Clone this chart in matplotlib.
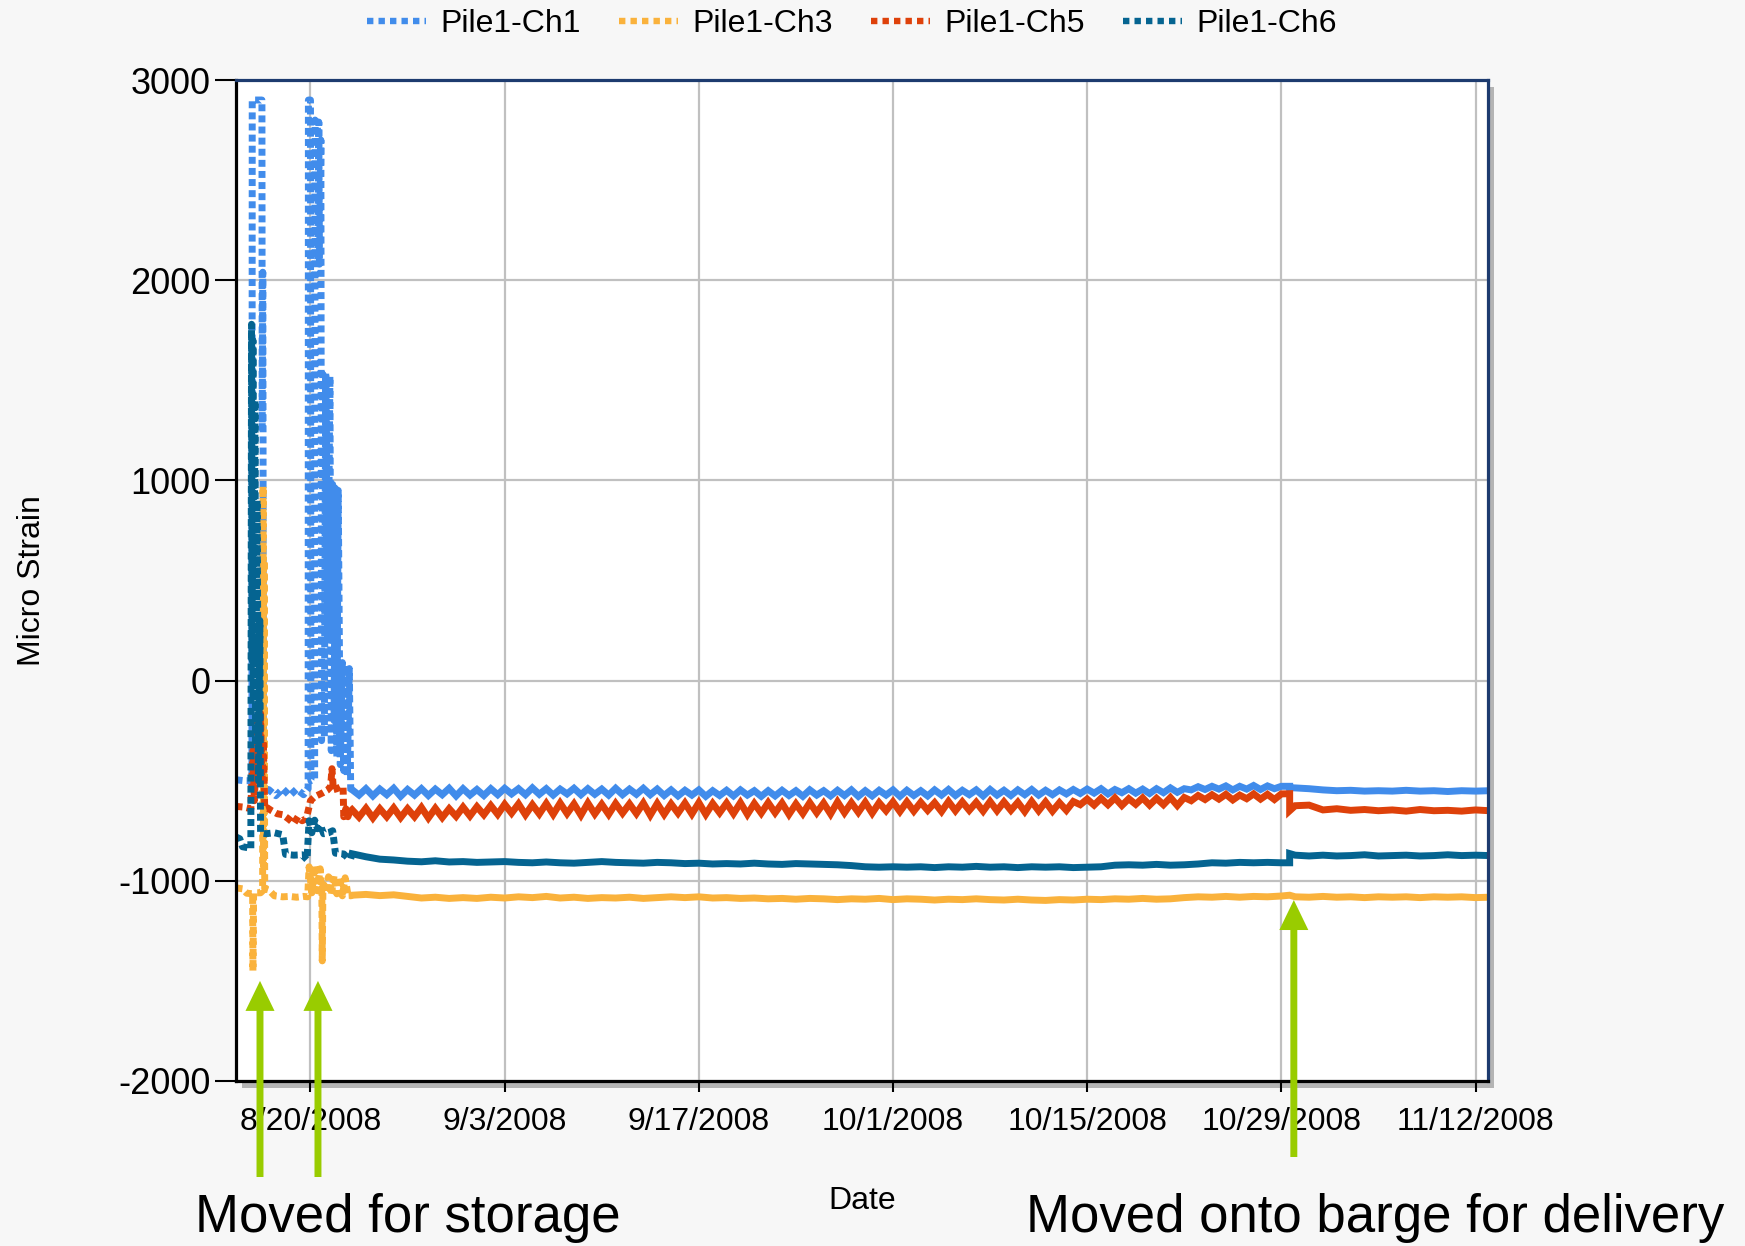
import matplotlib
matplotlib.use('Agg')
import matplotlib.pyplot as plt
import matplotlib.dates as mdates
from matplotlib.lines import Line2D
from matplotlib.patches import Rectangle
from datetime import datetime
import numpy as np

plt.rcParams['font.family'] = ['Liberation Sans', 'DejaVu Sans']

# ---- data (days counted from 8/20/2008) ----
series_names = ['Pile1-Ch1', 'Pile1-Ch3', 'Pile1-Ch5', 'Pile1-Ch6']
series_colors = ['#418ceb', '#fab23c', '#de410a', '#056491']

# irregular part around the two moves (day, micro strain)
ch1_early = [(-5.4, -495), (-4.8, -500), (-4.22, -500), (-4.2, 2900), (-3.5, 2900),
             (-3.48, 1260), (-3.44, 2040), (-3.42, 1260), (-3.4, -540), (-3.0, -545),
             (-2.5, -575), (-2.0, -540), (-1.5, -575), (-1.0, -542), (-0.5, -570),
             (-0.17, -540), (-0.15, 2900), (0.0, 2900), (0.03, -500), (0.3, -490),
             (0.33, 2800), (0.5, 2780), (0.52, 2100), (0.6, 2790), (0.65, 2080),
             (0.75, 2700), (0.8, -300), (0.9, 1530), (1.0, -280), (1.1, 1540),
             (1.25, 200), (1.4, 1520), (1.5, -350), (1.6, 980), (1.7, -200),
             (1.8, 960), (1.9, -380), (2.0, 950), (2.15, -420), (2.3, 90),
             (2.4, -450), (2.55, 80), (2.65, -480), (2.8, 60), (2.9, -540)]
ch3_early = [(-5.4, -1035), (-4.9, -1040), (-4.6, -1062), (-4.17, -1065), (-4.15, -1450),
             (-4.1, -1060), (-3.6, -1060), (-3.45, -1050), (-3.42, 970), (-3.38, -930),
             (-3.35, 600), (-3.3, -1040), (-3.0, -1046), (-2.6, -1075), (-2.0, -1080),
             (-1.5, -1078), (-1.0, -1082), (-0.5, -1078), (-0.2, -1080), (-0.1, -930),
             (0.1, -1060), (0.3, -925), (0.5, -1050), (0.7, -940), (0.82, -1060),
             (0.85, -1400), (0.9, -1000), (1.1, -1060), (1.3, -980), (1.5, -1070),
             (1.7, -975), (1.9, -1065), (2.1, -980), (2.3, -1075), (2.5, -985),
             (2.7, -1070), (2.9, -1075)]
ch5_early = [(-5.4, -628), (-4.8, -632), (-4.3, -640), (-4.15, -350), (-4.05, -600),
             (-3.8, -170), (-3.7, -450), (-3.6, -164), (-3.5, -500), (-3.4, -300),
             (-3.3, -640), (-3.1, -636), (-2.8, -650), (-2.4, -665), (-2.0, -670),
             (-1.6, -690), (-1.2, -713), (-0.9, -680), (-0.6, -700), (-0.3, -690),
             (0.0, -600), (0.3, -580), (0.6, -570), (0.9, -560), (1.2, -548),
             (1.45, -530), (1.55, -440), (1.65, -545), (1.9, -540), (2.2, -530),
             (2.35, -530), (2.4, -680), (2.55, -640), (2.7, -680), (2.9, -640)]
ch6_early = [(-5.4, -780), (-5.1, -790), (-4.9, -830), (-4.5, -835), (-4.3, -840),
             (-4.25, 1780), (-4.2, 100), (-4.15, 1700), (-4.1, -100), (-4.0, 1400),
             (-3.95, -300), (-3.85, 900), (-3.75, -500), (-3.65, 300), (-3.6, -760),
             (-3.2, -765), (-2.6, -760), (-2.0, -770), (-1.8, -868), (-1.2, -872),
             (-0.6, -870), (-0.25, -895), (-0.1, -700), (0.1, -760), (0.3, -697),
             (0.5, -740), (0.7, -720), (0.95, -765), (1.3, -760), (1.6, -750),
             (1.8, -862), (2.4, -866), (2.7, -886), (2.9, -890)]

# daily readings 8/23 .. 10/29 (days 3..70)
mid_days = list(range(3, 71))
ch1_mid = [-545, -540, -542, -538, -544, -540, -542, -538, -540, -544,
           -540, -538, -540, -536, -540, -542, -538, -540, -542, -538,
           -542, -538, -542, -546, -548, -546, -550, -548, -546, -550,
           -550, -548, -550, -546, -550, -548, -546, -550, -548, -546,
           -548, -550, -546, -544, -548, -546, -544, -548, -546, -544,
           -548, -546, -544, -542, -540, -544, -540, -542, -540, -536,
           -540, -530, -528, -526, -528, -524, -526, -528]
ch3_mid = [-1072, -1068, -1074, -1070, -1078, -1086, -1082, -1088, -1084, -1088,
           -1082, -1086, -1080, -1084, -1078, -1086, -1082, -1088, -1084, -1086,
           -1082, -1088, -1084, -1080, -1084, -1080, -1086, -1084, -1088, -1086,
           -1090, -1088, -1092, -1088, -1090, -1094, -1090, -1092, -1088, -1094,
           -1090, -1092, -1096, -1092, -1094, -1090, -1094, -1096, -1092, -1096,
           -1098, -1094, -1096, -1092, -1094, -1090, -1092, -1088, -1092, -1090,
           -1084, -1080, -1082, -1078, -1082, -1078, -1080, -1076]
ch5_mid = [-645, -638, -640, -636, -640, -634, -638, -640, -632, -630,
           -624, -618, -616, -620, -614, -612, -616, -612, -618, -614,
           -616, -612, -614, -616, -612, -610, -614, -612, -610, -614,
           -610, -612, -616, -610, -612, -606, -610, -608, -610, -606,
           -606, -608, -610, -604, -606, -608, -604, -606, -608, -604,
           -606, -610, -604, -592, -588, -586, -590, -586, -588, -584,
           -584, -574, -570, -568, -572, -566, -568, -566]
ch6_mid = [-865, -880, -892, -896, -902, -905, -900, -906, -904, -908,
           -906, -904, -908, -910, -906, -910, -912, -908, -904, -908,
           -910, -912, -908, -910, -914, -912, -916, -914, -916, -912,
           -916, -918, -914, -916, -918, -920, -924, -930, -932, -930,
           -932, -930, -934, -930, -932, -928, -932, -930, -934, -930,
           -932, -930, -934, -932, -930, -922, -920, -922, -918, -922,
           -920, -916, -910, -912, -908, -910, -908, -910]

# daily dips (half a day after each reading, days 3.5..69.5) on Ch1 and Ch5
ch1_dips = [-572, -576, -570, -578, -572, -574, -570, -576, -572, -574,
            -570, -566, -570, -568, -572, -566, -570, -568, -572, -570,
            -568, -570, -574, -576, -572, -578, -574, -576, -572, -578,
            -576, -574, -578, -572, -576, -574, -578, -576, -572, -578,
            -574, -576, -572, -574, -570, -576, -572, -574, -570, -572,
            -570, -566, -564, -562, -566, -560, -562, -564, -560, -558,
            -546, -544, -542, -546, -542, -544, -540]
ch5_dips = [-682, -686, -680, -684, -680, -686, -684, -678, -676, -670,
            -668, -662, -670, -666, -668, -664, -672, -666, -668, -662,
            -664, -672, -668, -662, -666, -668, -660, -664, -668, -662,
            -660, -668, -664, -660, -666, -660, -658, -662, -650, -654,
            -652, -648, -654, -650, -648, -652, -650, -648, -654, -650,
            -652, -648, -620, -622, -620, -624, -618, -622, -620, -624,
            -600, -594, -592, -596, -590, -592, -594]

# step on the barge day (10/29.6) and daily readings 10/30 .. 11/13
late_days = [70.6, 70.6] + list(range(71, 86))
ch1_late = [-528, -535, -536, -540, -546, -550, -548, -552, -550, -552,
            -548, -552, -550, -554, -550, -552, -550]
ch3_late = [-1072, -1072, -1080, -1082, -1078, -1082, -1080, -1084, -1080, -1082,
            -1080, -1084, -1080, -1082, -1080, -1084, -1082]
ch5_late = [-565, -650, -625, -622, -646, -640, -648, -644, -650, -646,
            -652, -644, -650, -648, -652, -646, -650]
ch6_late = [-910, -864, -872, -876, -872, -876, -874, -870, -876, -874,
            -872, -876, -874, -870, -874, -872, -874]

tick_dates = ['2008-08-20', '2008-09-03', '2008-09-17', '2008-10-01',
              '2008-10-15', '2008-10-29', '2008-11-12']
tick_labels = ['8/20/2008', '9/3/2008', '9/17/2008', '10/1/2008',
               '10/15/2008', '10/29/2008', '11/12/2008']
y_ticks = [-2000, -1000, 0, 1000, 2000, 3000]
y_tick_labels = ['-2000', '-1000', '0', '1000', '2000', '3000']

# annotations: (day of event, strain at arrow tip)
event_arrows = [(-3.64, -1500), (0.54, -1500), (70.9, -1096)]
notes = ['Moved for storage', 'Moved onto barge for delivery']


def mid_with_dips(tops, dips):
    days, vals = [], []
    for i, d in enumerate(mid_days):
        days.append(d)
        vals.append(tops[i])
        if dips is not None and i < len(dips):
            days.append(d + 0.5)
            vals.append(dips[i])
    return days, vals


# ---- figure ----
fig = plt.figure(figsize=(17.45, 12.46), dpi=100, facecolor='#f7f7f7')
W, H = 1745, 1246
ax = fig.add_axes([236 / W, 1 - 1081 / H, 1252 / W, 1001 / H])
ax.set_facecolor('white')

# drop shadow behind the plot frame
fig.add_artist(Rectangle((242 / W, 1 - 1088 / H), 1252 / W, 1001 / H,
                         transform=fig.transFigure, fc='#b4b4b4', ec='none', zorder=-1))

day0 = mdates.date2num(datetime(2008, 8, 20))

early = [ch1_early, ch3_early, ch5_early, ch6_early]
mids = [ch1_mid, ch3_mid, ch5_mid, ch6_mid]
dips = [ch1_dips, None, ch5_dips, None]
lates = [ch1_late, ch3_late, ch5_late, ch6_late]
for pts, mid, dp, late, col in zip(early, mids, dips, lates, series_colors):
    md, mv = mid_with_dips(mid, dp)
    ed = [d for d, v in pts]
    ev = [v for d, v in pts]
    # spiky part: dotted strokes
    ax.plot(day0 + np.array(ed + md[:1], float), ev + mv[:1], color=col, lw=5,
            linestyle=(0, (1, 0.6)))
    # dense daily part reads as a solid band
    ax.plot(day0 + np.array(md + late_days, float), mv + late, color=col, lw=5,
            solid_joinstyle='miter')

ax.set_xlim(day0 - 5.37, day0 + 84.9)
ax.set_ylim(-2000, 3000)
ax.set_xticks([mdates.datestr2num(s) for s in tick_dates])
ax.set_xticklabels(tick_labels)
ax.set_yticks(y_ticks)
ax.set_yticklabels(y_tick_labels)
ax.tick_params(axis='x', length=8, width=1.5, pad=10.5, labelsize=23)
ax.tick_params(axis='y', length=15, width=1.5, pad=3.5, labelsize=26)
ax.grid(True, color='#c0c0c0', lw=1.6)
ax.set_axisbelow(True)

for s in ['left', 'bottom']:
    ax.spines[s].set_color('black')
    ax.spines[s].set_linewidth(2.3)
for s in ['top', 'right']:
    ax.spines[s].set_color('#1d3b6f')
    ax.spines[s].set_linewidth(2.3)

ax.set_xlabel('Date', fontsize=23)
ax.xaxis.set_label_coords(0.5, -0.12)
ax.xaxis.label.set_va('center')
ax.set_ylabel('Micro Strain', fontsize=23)
ax.yaxis.set_label_coords(-0.163, 0.5)
ax.yaxis.label.set_va('center')

handles = [Line2D([], [], color=c, lw=4.6, linestyle=(0, (1, 0.8))) for c in series_colors]
fig.legend(handles, series_names, loc='center', bbox_to_anchor=(852 / W, 1 - 24 / H),
           ncol=4, frameon=False, fontsize=23, handlelength=1.85, handletextpad=0.47,
           columnspacing=1.17, borderpad=0, borderaxespad=0)

# green arrows marking the moves
tails = [69, 69, 89]
for (d, v), ty in zip(event_arrows, tails):
    ax.annotate('', xy=(day0 + d, v), xytext=(day0 + d, ty),
                textcoords=('data', 'figure pixels'), annotation_clip=False,
                arrowprops=dict(arrowstyle='simple,head_length=21.6,head_width=20.9,tail_width=5',
                                fc='#99cc00', ec='none', shrinkA=0, shrinkB=0,
                                mutation_scale=1))

note_font = ['Liberation Sans', 'DejaVu Sans']
fig.text(195 / W, 14 / H, notes[0], fontsize=38, family=note_font, va='baseline')
fig.text(1026 / W, 14 / H, notes[1], fontsize=38, family=note_font, va='baseline')

fig.savefig('out.png', dpi=100, facecolor=fig.get_facecolor())
